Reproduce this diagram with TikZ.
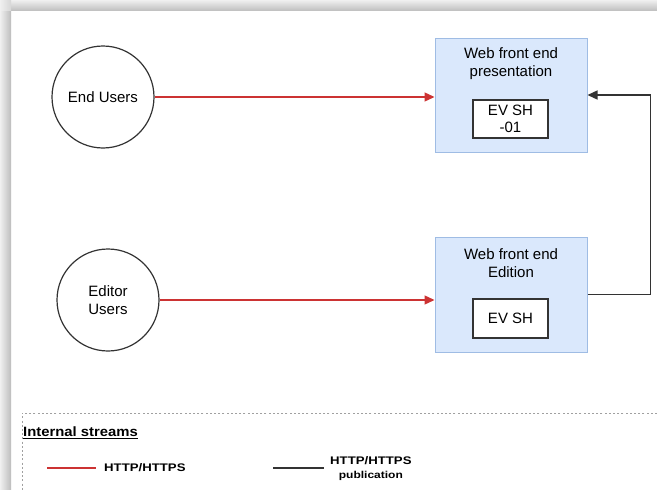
\documentclass[tikz,border=0pt]{standalone}
\usepackage{fontspec}
\usepackage{graphicx}
\setmainfont{Liberation Sans}
\usetikzlibrary{arrows.meta}

\definecolor{boxfill}{HTML}{DAE8FC}
\definecolor{boxline}{HTML}{9FBCE4}
\definecolor{inkdark}{HTML}{333333}
\definecolor{httpred}{HTML}{CC3333}
\definecolor{dotgray}{HTML}{A0A0A0}

\tikzset{
  actor/.style={circle, draw=inkdark, line width=1.2pt, fill=white,
    minimum size=102pt, inner sep=0pt, align=center,
    font=\fontsize{15}{18}\selectfont},
  frontbox/.style={rectangle, draw=boxline, line width=1pt, fill=boxfill,
    minimum width=152pt, inner sep=0pt},
  boxtitle/.style={align=center, inner sep=0pt,
    font=\fontsize{15}{18}\selectfont},
  instbox/.style={rectangle, draw=inkdark, line width=1.4pt, fill=white,
    minimum width=75pt, inner sep=0pt, align=center,
    font=\fontsize{15}{17}\selectfont},
  httpflow/.style={draw=httpred, line width=1.3pt,
    -{Triangle[length=10pt,width=9pt]}},
  pubflow/.style={draw=inkdark, line width=1.3pt,
    -{Triangle[length=10pt,width=9pt]}},
  legendframe/.style={draw=dotgray, line width=1pt, dash pattern=on 2pt off 2.2pt},
  legendtext/.style={inner sep=0pt, align=center,
    font=\fontsize{11}{16}\selectfont\bfseries},
  legendline/.style={line width=2pt},
}

\begin{document}
\begin{tikzpicture}[x=1pt,y=-1pt]
  \useasboundingbox (0,0) rectangle (657,490);

  % page with its drop shadow
  \fill[white] (0,0) rectangle (657,490);
  \shade[top color=black!6, bottom color=black!24] (0,0) rectangle (657,10);
  \shade[left color=black!6, right color=black!26] (0,10) rectangle (11,490);
  \shade[left color=black!6, right color=black!16] (0,0) rectangle (11,10);

  % users
  \node[actor] (enduser) at (103,97) {End Users};
  \node[actor] (editor) at (108,300) {Editor\\Users};

  % front end servers
  \node[frontbox, minimum height=114pt] (pres) at (511,95) {};
  \node[boxtitle] (prestitle) at (511,64) {Web front end\\presentation};
  \node[instbox, minimum height=38pt] (presinst) at (510.5,119) {EV SH\\-01};

  \node[frontbox, minimum height=115pt] (edit) at (511,294.5) {};
  \node[boxtitle] (edittitle) at (511,263) {Web front end\\Edition};
  \node[instbox, minimum height=39pt] (editinst) at (510.5,318.5) {EV SH};

  % streams
  \draw[httpflow] (enduser.east) -- (enduser.east -| pres.west);
  \draw[httpflow] (editor.east) -- (editor.east -| edit.west);
  \draw[pubflow] (edit.east) -- ++(63,0) |- (pres.east);

  % legend
  \draw[legendframe] (657,413) -- (22,413) -- (22,490);
  \node[anchor=west, inner sep=0pt, font=\fontsize{13.5}{16}\selectfont\bfseries]
    (legendtitle) at (23,433)
    {\scalebox{1.1}[1]{\underline{Internal streams}}};

  \coordinate (redA) at (47,468);
  \coordinate (redB) at (96,468);
  \draw[legendline, httpred] (redA) -- (redB);
  \node[legendtext, anchor=west] (redtext) at (104,468)
    {\scalebox{1.2}[1]{HTTP/HTTPS}};

  \coordinate (blackA) at (273,468);
  \coordinate (blackB) at (324,468);
  \draw[legendline, inkdark] (blackA) -- (blackB);
  \node[legendtext, anchor=west] (blacktext) at (330,469)
    {\scalebox{1.2}[1]{HTTP/HTTPS}\\[-2pt]\scalebox{1.2}[1]{\fontsize{10}{12}\selectfont publication}};
\end{tikzpicture}
\end{document}
